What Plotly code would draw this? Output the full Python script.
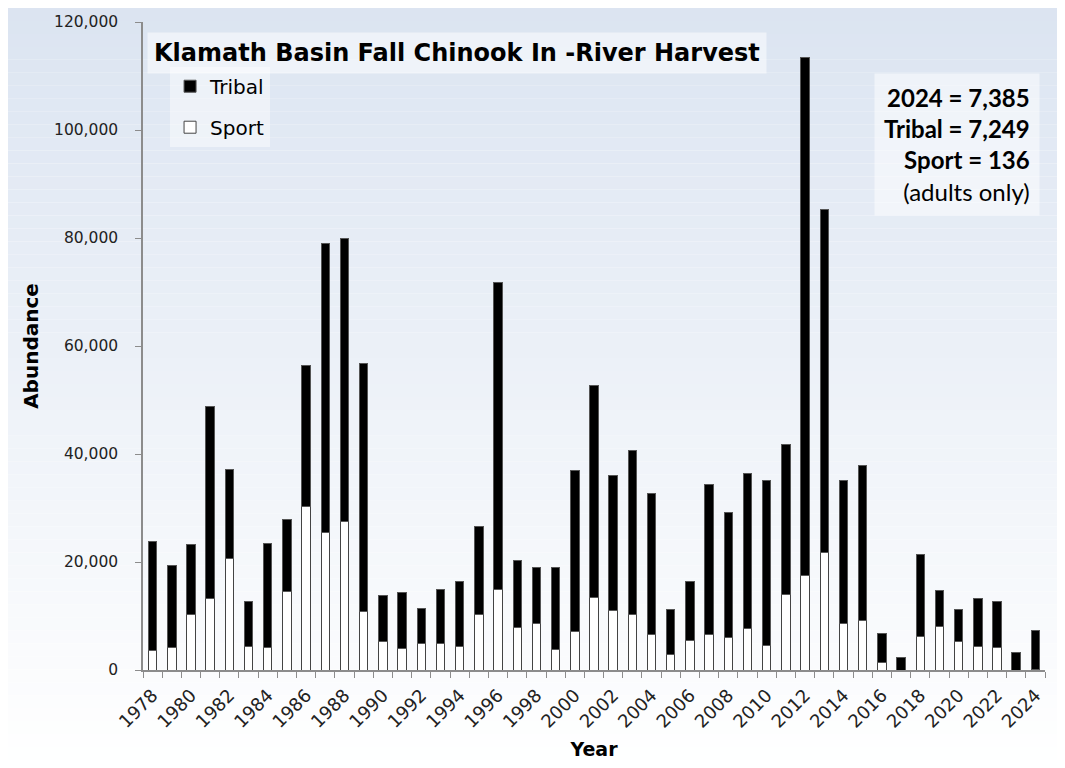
import plotly.graph_objects as go

# DATA ##########################################################################

years = list(range(1978, 2025))

total_harvest = [
    23830, 19390, 23330, 48770, 37160, 12650, 23460, 27900, 56420, 79070,
    79880, 56730, 13830, 14320, 11360, 14940, 16420, 26610, 71730, 20190,
    19070, 18890, 36920, 52660, 36110, 40560, 32650, 11240, 16300, 34320,
    29080, 36420, 35130, 41850, 113400, 85320, 35130, 37900, 6730, 2350,
    21360, 14750, 11170, 13270, 12650, 3270, 7385,
]

sport_harvest = [
    3580, 4130, 10190, 13150, 20680, 4440, 4130, 14630, 30190, 25430,
    27410, 10800, 5370, 3950, 4940, 4940, 4320, 10370, 14940, 7840,
    8700, 3770, 7100, 13460, 11110, 10350, 6540, 2840, 5430, 6540,
    6110, 7720, 4630, 13950, 17530, 21850, 8520, 9200, 1300, 0,
    6240, 8030, 5370, 4440, 4130, 0, 136,
]

tribal_harvest = [t - s for t, s in zip(total_harvest, sport_harvest)]

label_years = list(range(1978, 2025, 2))

# FIGURE ########################################################################

W, H = 1049, 752            # page adds an 8px body margin around the figure
ML, MR, MT, MB = 135, 12, 14, 90
PW, PH = W - ML - MR, H - MT - MB

fig = go.Figure()

fig.add_trace(go.Bar(
    x=years, y=sport_harvest, name='Sport', legendgroup='sport', legendrank=2,
    marker=dict(color='white', line=dict(color='#444444', width=1)),
    width=0.44,
))
fig.add_trace(go.Bar(
    x=years, y=tribal_harvest, name='Tribal', legendgroup='tribal', legendrank=1,
    marker=dict(color='black', line=dict(color='#555555', width=1)),
    width=0.44,
))

# background gradient (light blue at the top fading to white)
n_bands = 60
top_rgb = (219, 228, 241)
y_lo, y_hi = -MB / PH - 0.02, 1 + MT / PH + 0.02
shapes = []
for i in range(n_bands):
    f = i / (n_bands - 1)
    r = round(top_rgb[0] + (255 - top_rgb[0]) * f)
    g = round(top_rgb[1] + (255 - top_rgb[1]) * f)
    b = round(top_rgb[2] + (255 - top_rgb[2]) * f)
    step = (y_hi - y_lo) / n_bands
    shapes.append(dict(
        type='rect', xref='paper', yref='paper', layer='below',
        x0=-ML / PW - 0.02, x1=1 + MR / PW + 0.02,
        y0=y_hi - (i + 1) * step, y1=y_hi - i * step,
        fillcolor=f'rgb({r},{g},{b})', line=dict(width=0),
    ))

fig.update_layout(
    width=W, height=H,
    margin=dict(l=ML, r=MR, t=MT, b=MB),
    barmode='stack',
    paper_bgcolor='white',
    plot_bgcolor='rgba(0,0,0,0)',
    shapes=shapes,
    showlegend=True,
    legend=dict(
        x=0.03, y=0.931, xanchor='left', yanchor='top',
        bgcolor='rgba(255,255,255,0.45)',
        font=dict(family='DejaVu Sans', size=20, color='black'),
        traceorder='grouped',
        itemwidth=30,
        tracegroupgap=12,
    ),
    annotations=[
        dict(
            text='<b>Klamath Basin Fall Chinook In -River Harvest</b>',
            xref='paper', yref='paper', x=0.0044, y=0.984,
            xanchor='left', yanchor='top', showarrow=False,
            font=dict(family='DejaVu Sans', size=24, color='black'),
            bgcolor='rgba(255,255,255,0.5)', borderpad=6,
        ),
        dict(
            text='<b>2024 = 7,385</b><br><b>Tribal = 7,249</b><br>'
                 '<b>Sport = 136</b><br>(adults only)',
            xref='paper', yref='paper', x=0.9945, y=0.921,
            xanchor='right', yanchor='top', align='right', showarrow=False,
            font=dict(family='Lato', size=24, color='black'),
            bgcolor='rgba(255,255,255,0.5)', borderpad=9,
        ),
    ],
    xaxis=dict(
        range=[1977.5, 2024.5],
        automargin=False,
        tickvals=label_years,
        ticktext=[str(y) for y in label_years],
        tickangle=-45,
        ticklen=0,
        ticklabelstandoff=6,
        tickfont=dict(family='DejaVu Sans', size=18, color='#222222'),
        showline=True, linecolor='#8c8c8c', linewidth=1.5,
        showgrid=False, zeroline=False,
        minor=dict(tick0=1977.5, dtick=1, ticks='outside', ticklen=6,
                   tickcolor='#8c8c8c', showgrid=False),
        title=dict(text='<b>Year</b>', standoff=16,
                   font=dict(family='DejaVu Sans', size=19, color='black')),
    ),
    yaxis=dict(
        range=[0, 120000],
        automargin=False,
        tickvals=[0, 20000, 40000, 60000, 80000, 100000, 120000],
        tickformat=',d',
        ticks='outside', ticklen=6, tickcolor='#8c8c8c',
        ticklabelstandoff=14,
        tickfont=dict(family='DejaVu Sans', size=15.5, color='#222222'),
        showline=True, linecolor='#8c8c8c', linewidth=1.5,
        showgrid=False, zeroline=False,
        title=dict(text='<b>Abundance</b>', standoff=10,
                   font=dict(family='DejaVu Sans', size=20, color='black')),
    ),
)

fig.write_html("out.html")
